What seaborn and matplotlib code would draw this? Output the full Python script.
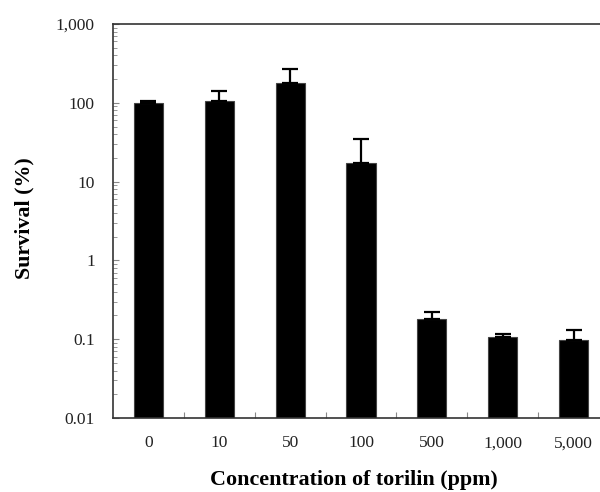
import numpy as np
import pandas as pd
import matplotlib
matplotlib.use("Agg")
import matplotlib.pyplot as plt
import matplotlib.ticker as mticker
import seaborn as sns

# Torilin concentration (ppm) and survival (%) with upper standard error
concentrations = ["0", "10", "50", "100", "500", "1,000", "5,000"]
survival = [98, 104, 178, 17.0, 0.18, 0.107, 0.097]
upper_err = [6, 38, 92, 17.5, 0.04, 0.008, 0.032]

y_ticks = [0.01, 0.1, 1, 10, 100, 1000]
y_tick_labels = ["0.01", "0.1", "1", "10", "100", "1,000"]

sns.set_theme(style="white")
plt.rcParams["font.family"] = ["Liberation Serif", "DejaVu Serif"]

fig = plt.figure(figsize=(6.0, 4.92), dpi=100)
ax = fig.add_axes([0.1883, 0.1504, 0.8267, 0.8008])
ax.set_yscale("log")

df = pd.DataFrame({"conc": concentrations, "surv": survival})
sns.barplot(data=df, x="conc", y="surv", color="black", width=0.41,
            edgecolor="#444444", linewidth=0.8, saturation=1, ax=ax,
            errorbar=None)

xpos = np.arange(len(concentrations))
ax.errorbar(xpos, survival, yerr=[np.zeros(len(upper_err)), upper_err],
            fmt="none", ecolor="black", elinewidth=1.6, capsize=5.8,
            capthick=1.6, zorder=1)

ax.set_ylim(0.01, 1000)
ax.set_xlim(-0.5, len(concentrations) - 0.5)
ax.yaxis.set_major_locator(mticker.FixedLocator(y_ticks))
ax.yaxis.set_major_formatter(mticker.FixedFormatter(y_tick_labels))
ax.yaxis.set_minor_locator(mticker.LogLocator(base=10, subs=np.arange(2, 10)))
ax.yaxis.set_minor_formatter(mticker.NullFormatter())

# Category ticks sit between the bars, labels under each bar
ax.set_xticks(xpos)
ax.set_xticklabels(concentrations)
ax.xaxis.set_minor_locator(mticker.FixedLocator(xpos[:-1] + 0.5))

ax.tick_params(axis="x", which="major", length=0, pad=12.5, labelsize=12.5,
               colors="#222222")
ax.tick_params(axis="x", which="minor", direction="in", length=4, width=0.8,
               color="#888888", bottom=True)
ax.tick_params(axis="y", which="major", direction="in", length=4, width=0.8,
               pad=13, labelsize=12.5, colors="#222222", left=True)
ax.tick_params(axis="y", which="minor", direction="in", length=3, width=0.6,
               color="#888888", left=True)
ax.tick_params(axis="y", which="major", color="#888888")

for side in ["left", "top", "bottom"]:
    ax.spines[side].set_visible(True)
    ax.spines[side].set_color("#333333")
    ax.spines[side].set_linewidth(1.2)
ax.spines["right"].set_visible(False)

ax.set_xlabel("Concentration of torilin (ppm)", fontsize=15.8,
              fontweight="bold", color="black")
ax.set_ylabel("Survival (%)", fontsize=15.8, fontweight="bold", color="black")
ax.xaxis.set_label_coords(0.486, -0.131)
ax.yaxis.set_label_coords(-0.159, 0.508)
ax.grid(False)

fig.savefig("out.png", dpi=100, facecolor="white")
